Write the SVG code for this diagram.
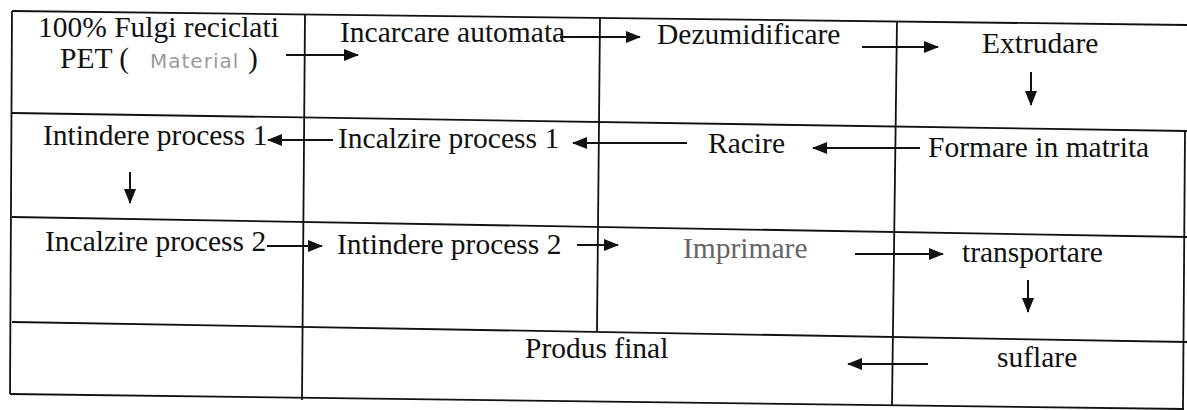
<svg xmlns="http://www.w3.org/2000/svg" width="1187" height="410" viewBox="0 0 1187 410">
<style>
.t{font-family:"Liberation Serif","Times New Roman",serif;font-size:29.5px;fill:#111}
.g{fill:#666}
.m{font-family:"DejaVu Sans","Liberation Sans",sans-serif;font-size:20px;fill:#9a9a9a;letter-spacing:1px}
.grid line{stroke:#111;stroke-width:1.8}
.conn line{stroke:#111;stroke-width:2;marker-end:url(#ah)}
</style>
<defs>
<marker id="ah" markerUnits="userSpaceOnUse" markerWidth="15" markerHeight="12" refX="14" refY="6" orient="auto">
<path d="M0,0 L15,6 L0,12 z" fill="#111"/>
</marker>
</defs>
<rect width="1187" height="410" fill="#fff"/>
<g class="grid" id="table">
<line x1="12" y1="11" x2="1187" y2="25"/>
<line x1="12" y1="113" x2="1187" y2="131"/>
<line x1="12" y1="217" x2="1187" y2="237"/>
<line x1="12" y1="322" x2="1187" y2="342"/>
<line x1="10" y1="394" x2="1184" y2="409"/>
<line x1="12" y1="11" x2="10" y2="394"/>
<line x1="305" y1="14" x2="302" y2="400"/>
<line x1="600" y1="18" x2="597" y2="331"/>
<line x1="897" y1="21" x2="892" y2="406"/>
<line x1="1185" y1="131" x2="1183" y2="409"/>
</g>
<g id="n-material"><text class="t" x="38" y="37">100% Fulgi reciclati</text><text class="t" x="60" y="68">PET (</text><text class="m" x="150" y="68">Material</text><text class="t" x="248" y="68">)</text></g>
<g id="n-incarcare"><text class="t" x="340" y="42">Incarcare automata</text></g>
<g id="n-dezumidificare"><text class="t" x="657" y="44">Dezumidificare</text></g>
<g id="n-extrudare"><text class="t" x="982" y="53">Extrudare</text></g>
<g id="n-intindere1"><text class="t" x="43" y="145">Intindere process 1</text></g>
<g id="n-incalzire1"><text class="t" x="338" y="148">Incalzire process 1</text></g>
<g id="n-racire"><text class="t" x="708" y="153">Racire</text></g>
<g id="n-formare"><text class="t" x="928" y="157">Formare in matrita</text></g>
<g id="n-incalzire2"><text class="t" x="45" y="251">Incalzire process 2</text></g>
<g id="n-intindere2"><text class="t" x="337" y="254">Intindere process 2</text></g>
<g id="n-imprimare"><text class="t g" x="683" y="258">Imprimare</text></g>
<g id="n-transportare"><text class="t" x="962" y="262">transportare</text></g>
<g id="n-produs"><text class="t" x="525" y="358">Produs final</text></g>
<g id="n-suflare"><text class="t" x="997" y="367">suflare</text></g>
<g class="conn" id="connectors">
<line x1="286" y1="55" x2="358" y2="55"/>
<line x1="560" y1="37" x2="640" y2="37"/>
<line x1="862" y1="47" x2="938" y2="47"/>
<line x1="1031" y1="72" x2="1031" y2="105"/>
<line x1="333" y1="140" x2="268" y2="140"/>
<line x1="687" y1="143" x2="573" y2="143"/>
<line x1="920" y1="148" x2="813" y2="148"/>
<line x1="130" y1="172" x2="130" y2="203"/>
<line x1="267" y1="246" x2="322" y2="246"/>
<line x1="577" y1="245" x2="618" y2="245"/>
<line x1="855" y1="254" x2="943" y2="254"/>
<line x1="1028" y1="280" x2="1028" y2="312"/>
<line x1="928" y1="364" x2="848" y2="364"/>
</g>
</svg>
